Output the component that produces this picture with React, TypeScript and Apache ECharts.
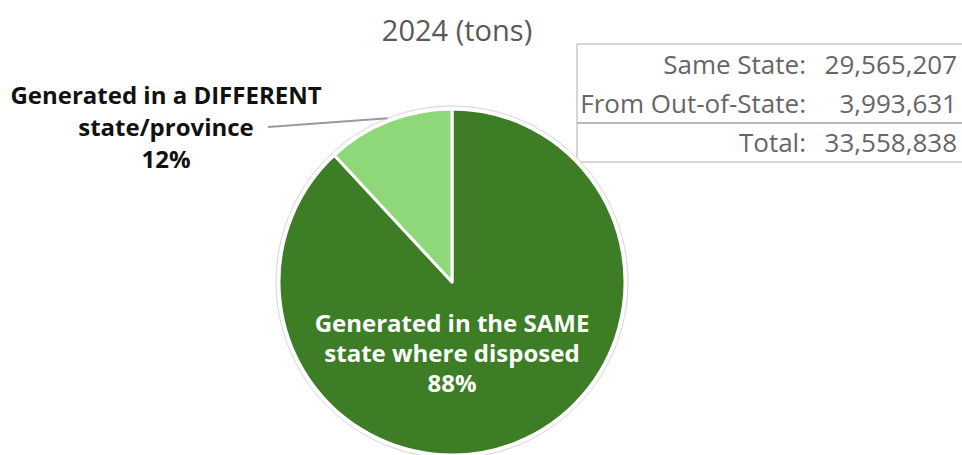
import React, { useEffect, useRef } from "react";
import * as echarts from "echarts";

const titleText = "2024 (tons)";
const categories = [
  "Generated in the SAME\nstate where disposed",
  "Generated in a DIFFERENT\nstate/province",
];
const values = [29565207, 3993631];
const colors = ["#3c7d25", "#8fd87a"];
const tableLabels = ["Same State:", "From Out-of-State:", "Total:"];

const fmt = (n: number) => n.toLocaleString("en-US");

export default function App() {
  const ref = useRef<HTMLDivElement>(null);
  useEffect(() => {
    document.body.style.margin = "0";
    const chart = echarts.init(ref.current!, null, { renderer: "svg" });
    const total = values.reduce((a, b) => a + b, 0);
    const tableValues = [values[0], values[1], total];
    const font = "'Open Sans', sans-serif";
    const cx = 452;
    const cy = 282;
    const rOuter = 176;
    // leader line end: mid-angle of the second slice on the outer ring
    const share = values[1] / total;
    const mid = ((90 + 180 * share) * Math.PI) / 180;
    const ex = cx + rOuter * Math.cos(mid);
    const ey = cy - rOuter * Math.sin(mid);
    const rowY = [64, 103, 142];
    const graphics: any[] = [
      { type: "line", shape: { x1: 577, y1: 44, x2: 962, y2: 44 }, style: { stroke: "#c8c8c8", lineWidth: 1.5 } },
      { type: "line", shape: { x1: 577, y1: 44, x2: 577, y2: 162 }, style: { stroke: "#c8c8c8", lineWidth: 1.5 } },
      { type: "line", shape: { x1: 577, y1: 123, x2: 962, y2: 123 }, style: { stroke: "#b8b8b8", lineWidth: 2 } },
      { type: "line", shape: { x1: 577, y1: 162, x2: 962, y2: 162 }, style: { stroke: "#c8c8c8", lineWidth: 1.5 } },
      { type: "line", z: 10, shape: { x1: 268, y1: 127, x2: ex, y2: ey }, style: { stroke: "#9a9a9a", lineWidth: 2 } },
    ];
    tableLabels.forEach((l, i) => {
      graphics.push({
        type: "text",
        x: 806,
        y: rowY[i],
        style: { text: l, fill: "#666", font: `26px ${font}`, align: "right", verticalAlign: "middle" },
      });
      graphics.push({
        type: "text",
        x: 957,
        y: rowY[i],
        style: { text: fmt(tableValues[i]), fill: "#666", font: `26px ${font}`, align: "right", verticalAlign: "middle" },
      });
    });

    chart.setOption({
      animation: false,
      title: {
        text: titleText,
        left: cx,
        top: 10,
        textAlign: "center",
        textStyle: { fontFamily: font, fontSize: 29, fontWeight: "normal", color: "#595959" },
      },
      graphic: graphics,
      series: [
        {
          type: "pie",
          silent: true,
          center: [cx, cy],
          radius: rOuter,
          z: 1,
          label: { show: false },
          labelLine: { show: false },
          itemStyle: { color: "#fff", borderColor: "#d6d6d6", borderWidth: 1 },
          data: [{ value: 1 }],
        },
        {
          type: "pie",
          center: [cx, cy],
          radius: 173,
          startAngle: 90,
          clockwise: true,
          z: 2,
          itemStyle: { borderColor: "#fff", borderWidth: 3 },
          label: {
            fontFamily: font,
            fontSize: 24,
            fontWeight: "bold",
            align: "center",
            formatter: (p: any) => `${p.name}\n${Math.round(p.percent)}%`,
          },
          labelLine: { show: false },
          labelLayout: (p: any) =>
            p.dataIndex === 0
              ? { x: cx, y: 352, align: "center", verticalAlign: "middle" }
              : { x: 166, y: 126, align: "center", verticalAlign: "middle" },
          data: categories.map((name, i) => ({
            name,
            value: values[i],
            itemStyle: { color: colors[i] },
            label:
              i === 0
                ? { position: "inside", color: "#fff", lineHeight: 30 }
                : { position: "outside", color: "#111", lineHeight: 32 },
          })),
        },
      ],
    });
    return () => chart.dispose();
  }, []);
  return <div ref={ref} style={{ width: 962, height: 455 }} />;
}
